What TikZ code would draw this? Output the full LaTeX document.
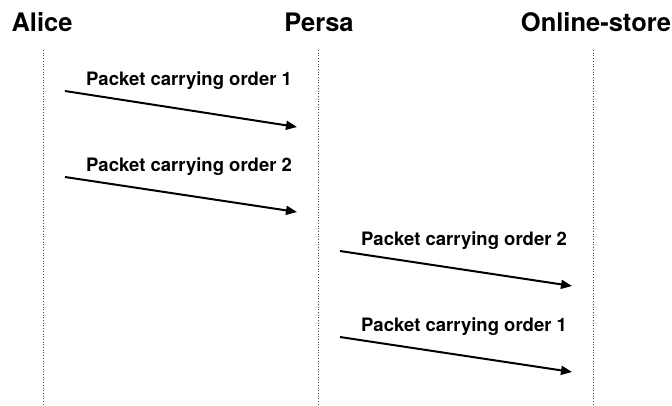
\documentclass[tikz,border=0pt]{standalone}
\usepackage{fontspec}
\setmainfont{TeX Gyre Heros}
\usetikzlibrary{arrows.meta}
\definecolor{lifeline}{rgb}{0.3,0.3,0.3}

\begin{document}
\begin{tikzpicture}[x=1pt, y=-1pt,
    actor/.style={font=\fontsize{25.5}{30}\selectfont\bfseries, inner sep=0pt},
    msg/.style={font=\fontsize{18.5}{22}\selectfont\bfseries, inner sep=0pt, anchor=base west},
    packet/.style={line width=2pt, -{Triangle[length=11pt,width=9pt]}},
    life/.style={lifeline, dotted, line width=0.7pt}]
            \useasboundingbox (0,0) rectangle (672,405);

            \node[actor] (alice) at (42,22) {Alice};
            \node[actor] (persa) at (319,22) {Persa};
            \node[actor] (store) at (596,22) {Online-store};

            \coordinate (alicetop) at (43,50);
            \coordinate (alicebot) at (43,405);
            \coordinate (persatop) at (318,50);
            \coordinate (persabot) at (318,405);
            \coordinate (storetop) at (593,50);
            \coordinate (storebot) at (593,405);
            \draw[life] (alicetop) -- (alicebot);
            \draw[life] (persatop) -- (persabot);
            \draw[life] (storetop) -- (storebot);

            \coordinate (s1) at (65,91);
            \coordinate (e1) at (297,127);
            \coordinate (s2) at (65,177);
            \coordinate (e2) at (297,212);
            \coordinate (s3) at (340,251);
            \coordinate (e3) at (572,286);
            \coordinate (s4) at (340,337);
            \coordinate (e4) at (572,372);

            \draw[packet] (s1) -- (e1);
            \draw[packet] (s2) -- (e2);
            \draw[packet] (s3) -- (e3);
            \draw[packet] (s4) -- (e4);

            \node[msg] (m1) at (86,85) {Packet carrying order 1};
            \node[msg] (m2) at (86,171) {Packet carrying order 2};
            \node[msg] (m3) at (361,245) {Packet carrying order 2};
            \node[msg] (m4) at (361,331) {Packet carrying order 1};
        \end{tikzpicture}
\end{document}
